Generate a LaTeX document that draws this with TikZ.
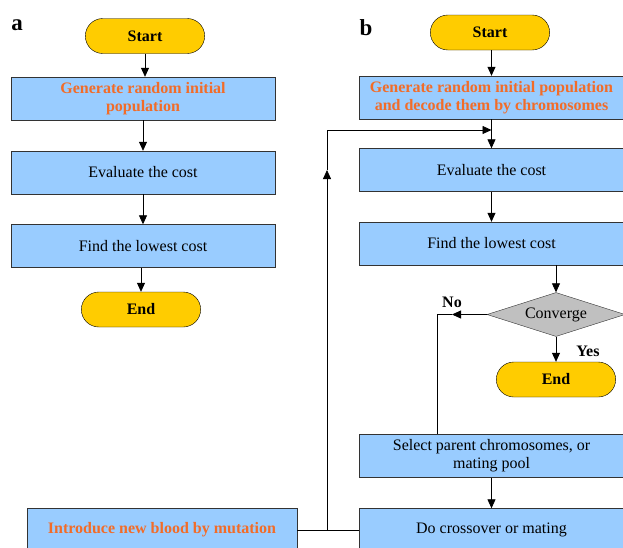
\documentclass[tikz,border=0pt]{standalone}
\usepackage{fontspec}
\setmainfont{Liberation Serif}
\usepackage{tikz}
\definecolor{boxblue}{RGB}{153, 204, 255}
\definecolor{termyellow}{RGB}{255, 204, 0}
\definecolor{decgray}{RGB}{192, 192, 192}
\definecolor{textorange}{RGB}{242, 108, 40}
\usetikzlibrary{shapes.misc, shapes.geometric, arrows.meta, calc}

\begin{document}
\begin{tikzpicture}[
    x=1pt, y=-1pt,
    terminal/.style={rounded rectangle, draw=black, fill=termyellow, minimum width=126pt, minimum height=35pt, font=\fontsize{16}{18}\selectfont\bfseries},
    process/.style={rectangle, draw=black!80, fill=boxblue, minimum width=264pt, minimum height=43pt, inner sep=1pt, font=\fontsize{16}{18}\selectfont, align=center},
    decision/.style={diamond, draw=black!80, fill=decgray, minimum width=138pt, minimum height=44pt, inner sep=0pt, aspect=3.1, font=\fontsize{16}{18}\selectfont},
    hot/.style={text=textorange, font=\fontsize{16}{18}\selectfont\bfseries},
    tag/.style={font=\fontsize{16}{18}\selectfont\bfseries},
    arrow/.style={-{Triangle[length=9pt,width=8pt]}, line width=0.8pt},
    link/.style={line width=0.8pt}
]
    \useasboundingbox (0,0) rectangle (623,547);
    \clip (0,0) rectangle (623,547);

    % Panel a
    \node[font=\fontsize{23}{25}\selectfont\bfseries] (la) at (17,25) {a};
    \node[terminal] (a1) at (145,36) {Start};
    \node[process, hot] (a2) at (143,98.5) {Generate random initial\\population};
    \node[process] (a3) at (143,172.5) {Evaluate the cost};
    \node[process] (a4) at (143,246) {Find the lowest cost};
    \node[terminal] (a5) at (141,309.5) {End};

    \draw[arrow] (a1.south) -- (a2.north -| a1.south);
    \draw[arrow] (a2.south) -- (a3.north);
    \draw[arrow] (a3.south) -- (a4.north);
    \draw[arrow] (a4.south -| a5.north) -- (a5.north);

    % Panel b
    \node[font=\fontsize{23}{25}\selectfont\bfseries] (lb) at (366,28) {b};
    \node[terminal] (b1) at (490,32.5) {Start};
    \node[process, hot] (b2) at (491.5,97.5) {Generate random initial population\\and decode them by chromosomes};
    \node[process] (b3) at (491.5,170) {Evaluate the cost};
    \node[process] (b4) at (491.5,243.5) {Find the lowest cost};
    \node[decision] (b5) at (556,314.5) {Converge};
    \node[terminal] (b6) at (556,379.5) {End};
    \node[process] (b7) at (491.5,456) {Select parent chromosomes, or\\mating pool};
    \node[process] (b8) at (491.5,530) {Do crossover or mating};
    \node[process, hot, minimum width=270pt] (b9) at (162,530) {Introduce new blood by mutation};

    \node[tag] (no) at (452,302) {No};
    \node[tag] (yes) at (588,351) {Yes};

    \draw[arrow] (b1.south -| b2.north) -- (b2.north);
    \draw[arrow] (b2.south) -- (b3.north);
    \draw[arrow] (b3.south) -- (b4.north);
    \draw[arrow] (b4.south -| b5.north) -- (b5.north);
    \draw[arrow] (b5.south) -- (b6.north);
    \draw[arrow] (b7.south) -- (b8.north);

    % No branch
    \coordinate (nomid) at (452,314.5);
    \coordinate (nocorner) at (437,314.5);
    \draw[arrow] (b5.west) -- (nomid);
    \draw[link] (nomid) -- (nocorner) -- (nocorner |- b7.north);

    % mutation loop back
    \coordinate (join) at (327,530);
    \coordinate (upmid) at (327,170);
    \coordinate (top) at (327,130);
    \coordinate (entry) at (491.5,130);
    \draw[link] (b9.east) -- (b8.west);
    \draw[arrow] (join) -- (upmid);
    \draw[link] (upmid) -- (top);
    \draw[arrow] (top) -- (entry);
\end{tikzpicture}
\end{document}
